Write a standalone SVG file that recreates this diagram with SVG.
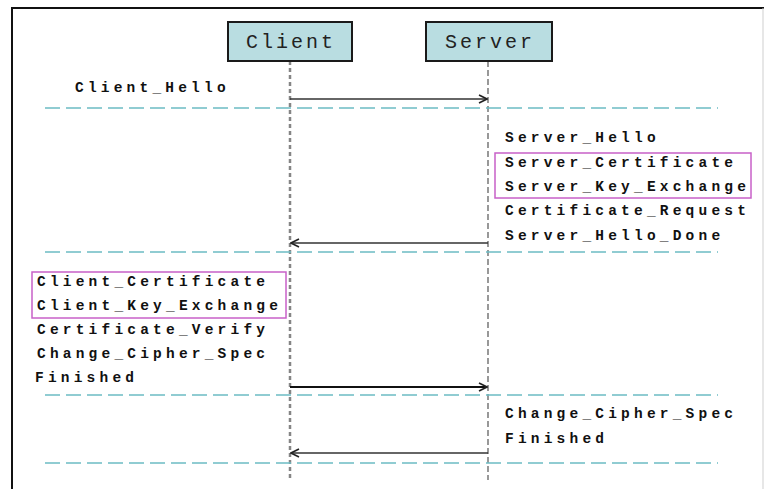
<svg xmlns="http://www.w3.org/2000/svg" width="764" height="489" viewBox="0 0 764 489">
  <style>
    .frame { stroke: #111; stroke-width: 2; fill: none; }
    .actor rect { fill: #b9dde1; stroke: #1a1a1a; stroke-width: 2; }
    .actor text { font-family: "Liberation Mono", "Courier New", monospace; font-size: 20px; letter-spacing: 3px; fill: #222; text-anchor: middle; }
    .lbl { font-family: "Liberation Mono", "Courier New", monospace; font-size: 14.5px; font-weight: bold; letter-spacing: 4.2px; fill: #111; }
    .sep { stroke: #6cbcc4; stroke-width: 1.5; stroke-dasharray: 15 6; fill: none; }
    .grp { fill: none; stroke: #c860c8; stroke-width: 1.5; }
    .life-c { stroke: #858585; stroke-width: 2.5; stroke-dasharray: 4 3; }
    .life-s { stroke: #555; stroke-width: 1.2; stroke-dasharray: 6 3; }
    .msg { stroke: #333; stroke-width: 1.3; fill: none; marker-end: url(#head); }
    .msg.bold { stroke: #111; stroke-width: 2; }
  </style>
  <defs>
    <marker id="head" viewBox="0 0 10 10" refX="9" refY="5" markerWidth="10" markerHeight="10" markerUnits="userSpaceOnUse" orient="auto">
      <path d="M1,1 L9,5 L1,9" fill="none" stroke="#222" stroke-width="1.6"/>
    </marker>
  </defs>

  <rect x="0" y="0" width="764" height="489" fill="#ffffff"/>

  <!-- outer frame: top and left edges, faint right edge -->
  <path class="frame" d="M12,489 L12,8 L764,8"/>
  <line x1="763" y1="8" x2="763" y2="489" stroke="#cfcfcf" stroke-width="1"/>

  <!-- lifelines -->
  <g id="lifelines">
    <line class="life-c" x1="290" y1="61" x2="290" y2="480"/>
    <line class="life-s" x1="488" y1="61" x2="488" y2="480"/>
  </g>

  <!-- participants -->
  <g id="client" class="actor">
    <rect x="228" y="22" width="124" height="39"/>
    <text x="291" y="48">Client</text>
  </g>
  <g id="server" class="actor">
    <rect x="426" y="22" width="126" height="39"/>
    <text x="490" y="48">Server</text>
  </g>

  <!-- phase separators -->
  <g id="separators">
    <line class="sep" x1="45" y1="108" x2="718" y2="108"/>
    <line class="sep" x1="45" y1="252" x2="718" y2="252"/>
    <line class="sep" x1="45" y1="395" x2="718" y2="395"/>
    <line class="sep" x1="45" y1="463" x2="718" y2="463"/>
  </g>

  <!-- messages -->
  <g id="connectors">
    <line class="msg" x1="290" y1="99" x2="487" y2="99"/>
    <line class="msg" x1="488" y1="243" x2="291" y2="243"/>
    <line class="msg bold" x1="290" y1="387" x2="487" y2="387"/>
    <line class="msg" x1="488" y1="453" x2="291" y2="453"/>
  </g>

  <!-- client hello -->
  <g id="client-hello">
    <text class="lbl" x="75" y="92">Client_Hello</text>
  </g>

  <!-- server hello flight -->
  <g id="server-flight-1">
    <rect class="grp" x="495" y="153" width="256" height="45"/>
    <text class="lbl" x="505" y="142">Server_Hello</text>
    <text class="lbl" x="505" y="167">Server_Certificate</text>
    <text class="lbl" x="505" y="191">Server_Key_Exchange</text>
    <text class="lbl" x="505" y="215">Certificate_Request</text>
    <text class="lbl" x="505" y="240">Server_Hello_Done</text>
  </g>

  <!-- client key exchange flight -->
  <g id="client-flight">
    <rect class="grp" x="32" y="272" width="254" height="46"/>
    <text class="lbl" x="37" y="286">Client_Certificate</text>
    <text class="lbl" x="37" y="310">Client_Key_Exchange</text>
    <text class="lbl" x="37" y="334">Certificate_Verify</text>
    <text class="lbl" x="37" y="358">Change_Cipher_Spec</text>
    <text class="lbl" x="35" y="382">Finished</text>
  </g>

  <!-- server finish flight -->
  <g id="server-flight-2">
    <text class="lbl" x="505" y="418">Change_Cipher_Spec</text>
    <text class="lbl" x="505" y="443">Finished</text>
  </g>
</svg>
